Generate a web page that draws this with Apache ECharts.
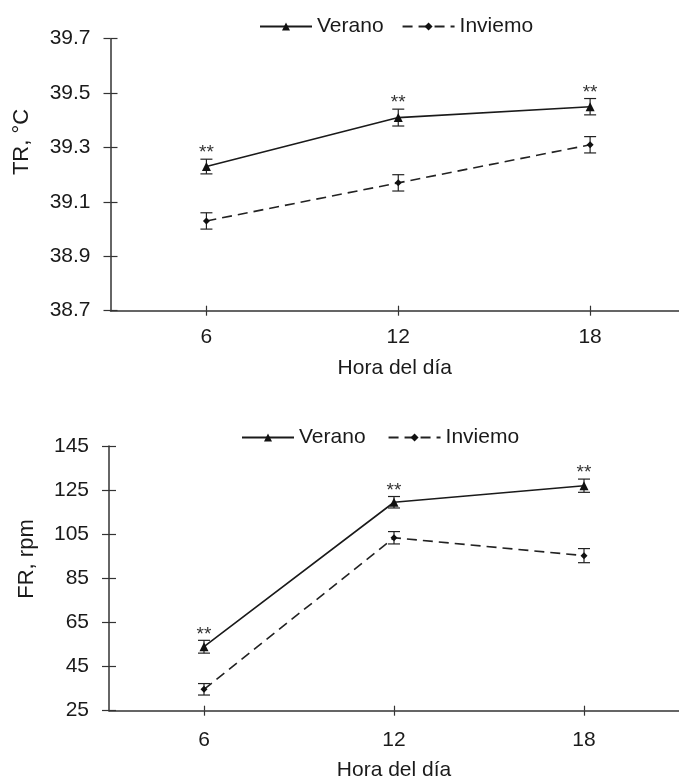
<!DOCTYPE html>
<html>
<head>
<meta charset="utf-8">
<script src="https://cdn.jsdelivr.net/npm/echarts@6/dist/echarts.min.js"></script>
<style>
html,body{margin:0;padding:0;background:#fff;}
#chart{width:679px;height:776px;}
</style>
</head>
<body>
<div id="chart"></div>
<script>
// ---- data ----
const hours = [6, 12, 18];
const hourTicks = [6, 12, 18];
const seriesNames = ['Verano', 'Inviemo'];

const trVerano = [39.23, 39.41, 39.45];
const trVeranoErr = [0.027, 0.031, 0.03];
const trInviemo = [39.03, 39.17, 39.31];
const trInviemoErr = [0.03, 0.03, 0.03];
const trSig = ['**', '**', '**'];
const trTicks = [38.7, 38.9, 39.1, 39.3, 39.5, 39.7];

const frVerano = [54.0, 119.5, 127.0];
const frVeranoErr = [2.9, 2.6, 3.0];
const frInviemo = [34.7, 103.4, 95.3];
const frInviemoErr = [2.6, 2.8, 3.2];
const frSig = ['**', '**', '**'];
const frTicks = [25, 45, 65, 85, 105, 125, 145];

const xTitle = 'Hora del día';
const trTitle = 'TR, °C';
const frTitle = 'FR, rpm';

// ---- style ----
const FONT = '"Liberation Sans", Arial, sans-serif';
const TXT = '#1a1a1a';
const AX = '#333333';

function pts(vals) { return hours.map((h, i) => [h, vals[i]]); }
function errData(vals, errs, sig) { return hours.map((h, i) => [h, vals[i], errs[i], sig ? sig[i] : '']); }

function errRender(params, api) {
  const x = api.value(0), y = api.value(1), e = api.value(2);
  const top = api.coord([x, y + e]);
  const bot = api.coord([x, y - e]);
  const hw = 6;
  const st = { stroke: '#222', lineWidth: 1.2 };
  return {
    type: 'group', children: [
      { type: 'line', shape: { x1: top[0], y1: top[1], x2: bot[0], y2: bot[1] }, style: st },
      { type: 'line', shape: { x1: top[0] - hw, y1: top[1], x2: top[0] + hw, y2: top[1] }, style: st },
      { type: 'line', shape: { x1: bot[0] - hw, y1: bot[1], x2: bot[0] + hw, y2: bot[1] }, style: st }
    ]
  };
}
function sigRender(params, api) {
  const x = api.value(0), y = api.value(1), e = api.value(2);
  const label = api.value(3);
  const top = api.coord([x, y + e]);
  return {
    type: 'text', x: top[0], y: top[1] - 6,
    style: { text: String(label), font: '19px ' + FONT, fill: '#333', align: 'center', verticalAlign: 'middle' }
  };
}

function xMain(gi, max, margin, gap) {
  return {
    type: 'value', gridIndex: gi, min: 3, max: max, position: 'bottom',
    name: xTitle, nameLocation: 'middle', nameGap: gap,
    nameTextStyle: { fontSize: 21, color: TXT, fontFamily: FONT },
    axisLine: { show: true, onZero: false, lineStyle: { color: AX, width: 1.5 } },
    axisTick: { show: true, length: 5, customValues: hourTicks, lineStyle: { color: AX, width: 1.2 } },
    axisLabel: { customValues: hourTicks, fontSize: 21, color: TXT, fontFamily: FONT, margin: margin },
    splitLine: { show: false }
  };
}
function xInner(gi, max) {
  return {
    type: 'value', gridIndex: gi, min: 3, max: max, position: 'bottom',
    axisLine: { show: false },
    axisTick: { show: true, inside: true, length: 5, customValues: hourTicks, lineStyle: { color: AX, width: 1.2 } },
    axisLabel: { show: false }, splitLine: { show: false }
  };
}
function yMain(gi, ticks) {
  return {
    type: 'value', gridIndex: gi, min: ticks[0], max: ticks[ticks.length - 1], position: 'left',
    axisLine: { show: true, lineStyle: { color: AX, width: 1.5 } },
    axisTick: { show: true, length: 7, customValues: ticks, lineStyle: { color: AX, width: 1.2 } },
    axisLabel: { customValues: ticks, fontSize: 21, color: TXT, fontFamily: FONT, margin: 20,
      formatter: v => (gi === 0 ? Number(v).toFixed(1) : String(v)) },
    splitLine: { show: false }
  };
}
function yInner(gi, ticks) {
  return {
    type: 'value', gridIndex: gi, min: ticks[0], max: ticks[ticks.length - 1], position: 'left',
    axisLine: { show: false },
    axisTick: { show: true, inside: true, length: 7, customValues: ticks, lineStyle: { color: AX, width: 1.2 } },
    axisLabel: { show: false }, splitLine: { show: false }
  };
}
function lineSeries(name, gi, vals, dashed) {
  return {
    type: 'line', name: name, xAxisIndex: gi * 2, yAxisIndex: gi * 2,
    data: pts(vals),
    symbol: dashed ? 'diamond' : 'triangle',
    symbolSize: dashed ? 7 : 9,
    itemStyle: { color: '#111' },
    lineStyle: { color: dashed ? '#222' : '#1a1a1a', width: 1.6, type: dashed ? [10, 6] : 'solid' },
    z: 3, silent: true, animation: false
  };
}
function errSeries(gi, vals, errs) {
  return {
    type: 'custom', xAxisIndex: gi * 2, yAxisIndex: gi * 2,
    data: errData(vals, errs), renderItem: errRender, z: 2, silent: true, animation: false
  };
}
function sigSeries(gi, vals, errs, sig) {
  return {
    type: 'custom', xAxisIndex: gi * 2, yAxisIndex: gi * 2,
    data: errData(vals, errs, sig), renderItem: sigRender, z: 4, silent: true, animation: false
  };
}
function legend(left, top, gap) {
  return {
    data: seriesNames, left: left, top: top, itemGap: gap, itemWidth: 52, itemHeight: 10, padding: 0,
    textStyle: { fontSize: 21, color: TXT, fontFamily: FONT },
    selectedMode: false
  };
}

const chart = echarts.init(document.getElementById('chart'), null, { renderer: 'canvas' });
chart.setOption({
  animation: false,
  backgroundColor: '#fff',
  textStyle: { fontFamily: FONT },
  legend: [legend(259, 16, 18), legend(241, 427, 22)],
  grid: [
    { left: 110.5, right: 0, top: 38.7, bottom: 776 - 310.7, containLabel: false, outerBoundsMode: 'none' },
    { left: 109, right: 0, top: 446, bottom: 776 - 710.7, containLabel: false, outerBoundsMode: 'none' }
  ],
  xAxis: [xMain(0, 20.78, 16, 47), xInner(0, 20.78), xMain(1, 21, 19, 49), xInner(1, 21)],
  yAxis: [yMain(0, trTicks), yInner(0, trTicks), yMain(1, frTicks), yInner(1, frTicks)],
  graphic: [
    { type: 'text', x: 22, y: 142, rotation: Math.PI / 2,
      style: { text: trTitle, font: '22px ' + FONT, fill: TXT, align: 'center', verticalAlign: 'middle' } },
    { type: 'text', x: 27, y: 559, rotation: Math.PI / 2,
      style: { text: frTitle, font: '22px ' + FONT, fill: TXT, align: 'center', verticalAlign: 'middle' } }
  ],
  series: [
    errSeries(0, trVerano, trVeranoErr),
    errSeries(0, trInviemo, trInviemoErr),
    lineSeries('Verano', 0, trVerano, false),
    lineSeries('Inviemo', 0, trInviemo, true),
    sigSeries(0, trVerano, trVeranoErr, trSig),
    errSeries(1, frVerano, frVeranoErr),
    errSeries(1, frInviemo, frInviemoErr),
    lineSeries('Verano', 1, frVerano, false),
    lineSeries('Inviemo', 1, frInviemo, true),
    sigSeries(1, frVerano, frVeranoErr, frSig)
  ]
});
</script>
</body>
</html>
